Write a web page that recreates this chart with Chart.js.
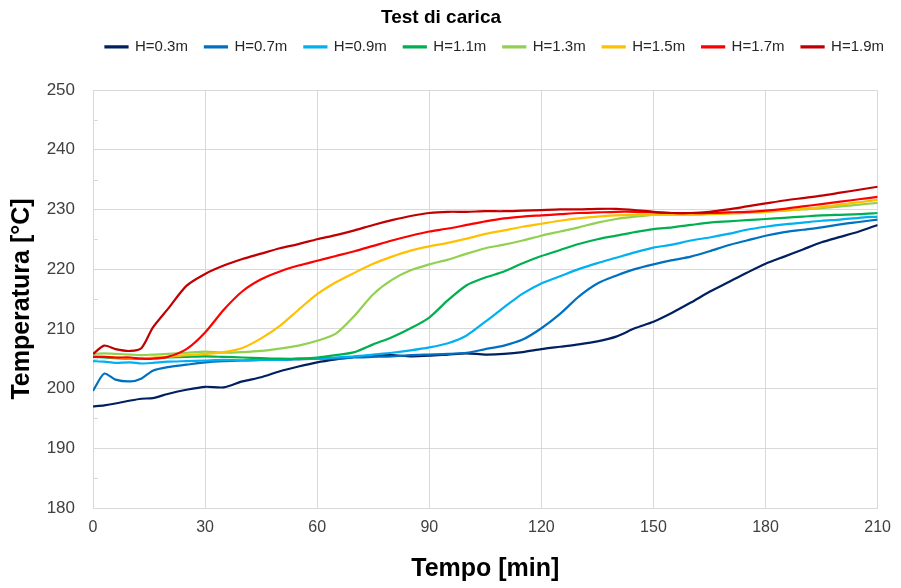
<!DOCTYPE html>
<html>
<head>
<meta charset="utf-8">
<title>Test di carica</title>
<script src="https://cdn.jsdelivr.net/npm/chart.js@4"></script>
<style>
  body { margin: 0; background: #ffffff; }
  #wrap { width: 901px; height: 588px; }
</style>
</head>
<body>
<div id="wrap"><canvas id="canvas" width="901" height="588"></canvas></div>
<script>
// time axis [min]
const times = [0, 3, 6, 10, 13, 16, 20, 25, 30, 35, 40, 45, 50, 55, 60, 65, 70, 75, 80, 85, 90, 95, 100, 105, 110, 115, 120, 125, 130, 135, 140, 145, 150, 155, 160, 165, 170, 175, 180, 185, 190, 195, 200, 205, 210]

// temperatures [°C], one list per height
const h03 = [197, 197.2, 197.5, 198, 198.3, 198.4, 199.1, 199.8, 200.3, 200.2, 201.2, 201.9, 202.9, 203.7, 204.4, 204.9, 205.3, 205.5, 205.6, 205.4, 205.5, 205.7, 205.9, 205.7, 205.8, 206.1, 206.6, 207, 207.4, 207.9, 208.7, 210.1, 211.2, 212.7, 214.4, 216.2, 217.8, 219.4, 220.9, 222.1, 223.3, 224.5, 225.4, 226.3, 227.4]
const h07 = [199.6, 202.5, 201.5, 201.2, 201.7, 203, 203.6, 204, 204.4, 204.6, 204.7, 204.8, 204.8, 204.9, 205, 205, 205.2, 205.3, 205.4, 205.6, 205.7, 205.8, 206, 206.6, 207.2, 208.2, 210.1, 212.5, 215.4, 217.6, 218.9, 220, 220.8, 221.5, 222.1, 223, 224, 224.8, 225.6, 226.2, 226.6, 227, 227.5, 227.9, 228.3]
const h09 = [204.6, 204.5, 204.3, 204.4, 204.2, 204.3, 204.5, 204.6, 204.7, 204.8, 204.7, 204.8, 204.8, 205, 205, 205.2, 205.4, 205.7, 206, 206.4, 206.9, 207.6, 208.9, 211.2, 213.6, 215.9, 217.6, 218.8, 220, 221, 221.9, 222.8, 223.6, 224.1, 224.8, 225.3, 225.9, 226.6, 227.1, 227.5, 227.8, 228.1, 228.3, 228.6, 228.8]
const h11 = [205.3, 205.2, 205.1, 205, 205, 205.1, 205.2, 205.3, 205.4, 205.3, 205.2, 205.1, 205, 205, 205.2, 205.6, 206.1, 207.4, 208.6, 210.1, 211.9, 214.8, 217.3, 218.6, 219.6, 221, 222.2, 223.2, 224.2, 225, 225.6, 226.2, 226.7, 227, 227.4, 227.8, 228, 228.2, 228.4, 228.6, 228.8, 229, 229.1, 229.2, 229.4]
const h13 = [205.8, 205.9, 205.8, 205.7, 205.6, 205.7, 205.8, 206, 206.2, 206, 206.1, 206.3, 206.7, 207.2, 208, 209.2, 212.2, 215.8, 218.2, 219.8, 220.8, 221.6, 222.6, 223.5, 224.1, 224.8, 225.6, 226.3, 227, 227.8, 228.4, 228.8, 229.1, 229.2, 229.2, 229.3, 229.4, 229.5, 229.6, 229.8, 230, 230.2, 230.5, 230.8, 231.1]
const h15 = [205.4, 205.3, 205.2, 205.1, 205.1, 205.2, 205.3, 205.6, 205.8, 206.1, 206.8, 208.4, 210.5, 213.2, 215.8, 217.8, 219.4, 220.9, 222.1, 223.1, 223.8, 224.4, 225.1, 225.9, 226.5, 227.1, 227.6, 228.1, 228.5, 228.8, 229, 229.1, 229.1, 229.1, 229.1, 229.2, 229.3, 229.4, 229.6, 229.8, 230.1, 230.4, 230.8, 231.2, 231.6]
const h17 = [205.3, 205.3, 205.2, 205.2, 205, 205, 205.3, 206.6, 209.4, 213.2, 216.3, 218.3, 219.6, 220.6, 221.4, 222.2, 223, 223.9, 224.8, 225.6, 226.3, 226.8, 227.4, 228, 228.5, 228.8, 229, 229.2, 229.4, 229.5, 229.6, 229.6, 229.5, 229.4, 229.4, 229.4, 229.5, 229.6, 229.8, 230.1, 230.5, 230.9, 231.3, 231.7, 232.1]
const h19 = [205.8, 207.2, 206.6, 206.3, 206.8, 210.2, 213.3, 217.2, 219.2, 220.6, 221.7, 222.6, 223.5, 224.2, 225, 225.7, 226.5, 227.4, 228.2, 228.9, 229.4, 229.6, 229.6, 229.7, 229.7, 229.8, 229.9, 230, 230, 230.1, 230.1, 229.9, 229.6, 229.4, 229.4, 229.6, 230, 230.5, 231, 231.5, 231.9, 232.3, 232.8, 233.3, 233.8]

const labels = ['H=0.3m', 'H=0.7m', 'H=0.9m', 'H=1.1m', 'H=1.3m', 'H=1.5m', 'H=1.7m', 'H=1.9m']
const series = [h03, h07, h09, h11, h13, h15, h17, h19]
const colors = ['#002060', '#0070C0', '#00B0F0', '#00B050', '#92D050', '#FFC000', '#FF0000', '#C00000']

const FONT = "'Liberation Sans', Arial, sans-serif"

// the reference leaves a wide gap between legend and plot,
// and its legend runs up to the right edge of the picture
const legendPlacement = {
    id: 'legendPlacement',
    afterInit(chart) {
        const fit = chart.legend.fit
        chart.legend.fit = function () {
            fit.call(this)
            this.height += 25.6
        }
    },
    afterLayout(chart) {
        chart.legend.right = chart.width
    }
}

// short minor ticks on the inside of the y axis
const minorTicks = {
    id: 'minorTicks',
    beforeDatasetsDraw(chart) {
        const y = chart.scales.y
        const left = chart.chartArea.left
        const ctx = chart.ctx
        ctx.save()
        ctx.strokeStyle = '#d9d9d9'
        ctx.lineWidth = 1
        for (let v = y.min + 5; v < y.max; v += 10) {
            const py = Math.round(y.getPixelForValue(v)) + 0.5
            ctx.beginPath()
            ctx.moveTo(left, py)
            ctx.lineTo(left + 5, py)
            ctx.stroke()
        }
        ctx.restore()
    }
}

const datasets = series.map((values, i) => ({
    label: labels[i],
    data: values.map((v, j) => ({x: times[j], y: v})),
    borderColor: colors[i],
    backgroundColor: colors[i],
    borderWidth: 2.2,
    pointRadius: 0,
    tension: 0.25,
    order: series.length - i // later series drawn on top, like the original
}))

new Chart(document.querySelector('#canvas'), {
    type: 'line',
    data: {datasets: datasets},
    options: {
        responsive: false,
        animation: false,
        layout: {padding: {right: 19}},
        plugins: {
            title: {
                display: true,
                text: 'Test di carica',
                color: '#000000',
                font: {family: FONT, size: 19, weight: 'bold'},
                padding: {top: 6.6, bottom: -7}
            },
            legend: {
                align: 'end',
                labels: {
                    color: '#262626',
                    font: {family: FONT, size: 15},
                    boxWidth: 22,
                    boxHeight: 1,
                    padding: 17,
                    sort: (a, b) => a.datasetIndex - b.datasetIndex
                }
            },
            tooltip: {enabled: false}
        },
        scales: {
            x: {
                type: 'linear',
                min: 0,
                max: 210,
                afterFit: (scale) => { scale.height = 80 },
                ticks: {
                    stepSize: 30,
                    color: '#404040',
                    font: {family: FONT, size: 16},
                    padding: 10
                },
                grid: {color: '#d9d9d9', drawTicks: false},
                border: {color: '#d9d9d9'},
                title: {
                    display: true,
                    text: 'Tempo [min]',
                    color: '#000000',
                    font: {family: FONT, size: 25, weight: 'bold'},
                    padding: {top: 0, bottom: 4}
                }
            },
            y: {
                min: 180,
                max: 250,
                afterFit: (scale) => { scale.width = 93 },
                ticks: {
                    stepSize: 10,
                    color: '#404040',
                    font: {family: FONT, size: 17},
                    padding: 18
                },
                grid: {color: '#d9d9d9', drawTicks: false},
                border: {color: '#d9d9d9'},
                title: {
                    display: true,
                    text: 'Temperatura [°C]',
                    color: '#000000',
                    font: {family: FONT, size: 25, weight: 'bold'},
                    padding: {top: 7, bottom: 0}
                }
            }
        }
    },
    plugins: [legendPlacement, minorTicks]
})
</script>
</body>
</html>
